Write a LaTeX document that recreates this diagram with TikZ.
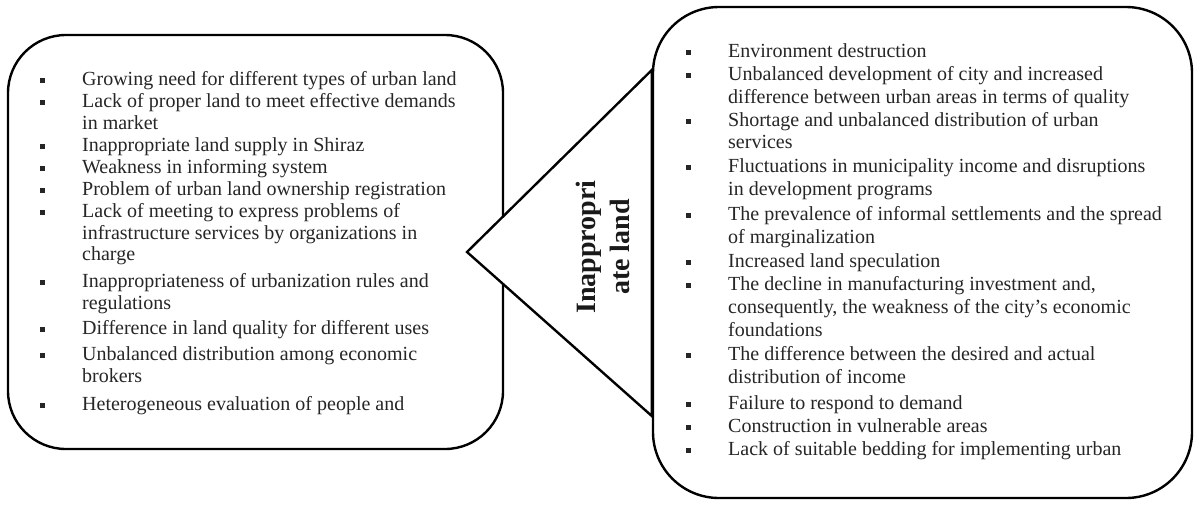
\documentclass[tikz,border=0pt]{standalone}
\usepackage{fontspec}
\setmainfont{Liberation Serif}
\begin{document}
\begin{tikzpicture}[x=1pt,y=-1pt,
  panel/.style={draw=black, line width=2.4pt, fill=white, inner sep=0pt},
  entry/.style={anchor=base west, inner sep=0pt, text=black!85,
                font=\fontsize{20}{23}\selectfont},
  dot/.style={fill=black!85, minimum size=5pt, inner sep=0pt},
  heading/.style={rotate=90, align=center, text=black!90, inner sep=0pt,
                  font=\bfseries\fontsize{28}{34}\selectfont}]
\useasboundingbox[fill=white] (0,0) rectangle (1201,507);

% the two rounded panels
\node[panel, rounded corners=58pt, minimum width=495pt, minimum height=414pt]
  (causes) at (255.5,242) {};
\node[panel, rounded corners=66pt, minimum width=539pt, minimum height=491pt]
  (effects) at (922.5,252.5) {};

% the wedge that links the panels
\coordinate (tip) at (467,252);
\coordinate (upper) at (effects.west |- 0,70);
\coordinate (lower) at (effects.west |- 0,416);
\filldraw[panel, line join=miter] (upper) -- (tip) -- (lower) -- cycle;
\node[heading] (title) at (603,247) {Inappropri\\ate land};

% causes
\foreach \y/\b/\t [count=\i] in {
  80/1/{Growing need for different types of urban land},
  102/1/{Lack of proper land to meet effective demands},
  124/0/{in market},
  146/1/{Inappropriate land supply in Shiraz},
  168/1/{Weakness in informing system},
  190/1/{Problem of urban land ownership registration},
  212/1/{Lack of meeting to express problems of},
  234/0/{infrastructure services by organizations in},
  255/0/{charge},
  282/1/{Inappropriateness of urbanization rules and},
  304/0/{regulations},
  329/1/{Difference in land quality for different uses},
  355/1/{Unbalanced distribution among economic},
  377/0/{brokers},
  405/1/{Heterogeneous evaluation of people and}} {
  \node[entry] (cause-\i) at (82,\y+5) {\t};
  \ifnum\b=1 \node[dot] (cause-dot-\i) at (42,\y) {};\fi
}

% consequences
\foreach \y/\b/\t [count=\i] in {
  52/1/{Environment destruction},
  75/1/{Unbalanced development of city and increased},
  98/0/{difference between urban areas in terms of quality},
  121/1/{Shortage and unbalanced distribution of urban},
  143/0/{services},
  167/1/{Fluctuations in municipality income and disruptions},
  190/0/{in development programs},
  215/1/{The prevalence of informal settlements and the spread},
  238/0/{of marginalization},
  262/1/{Increased land speculation},
  285/1/{The decline in manufacturing investment and,},
  308/0/{consequently, the weakness of the city's economic},
  331/0/{foundations},
  355/1/{The difference between the desired and actual},
  378/0/{distribution of income},
  404/1/{Failure to respond to demand},
  427/1/{Construction in vulnerable areas},
  450/1/{Lack of suitable bedding for implementing urban}} {
  \node[entry] (effect-\i) at (728,\y+5) {\t};
  \ifnum\b=1 \node[dot] (effect-dot-\i) at (688,\y) {};\fi
}
\end{tikzpicture}
\end{document}
